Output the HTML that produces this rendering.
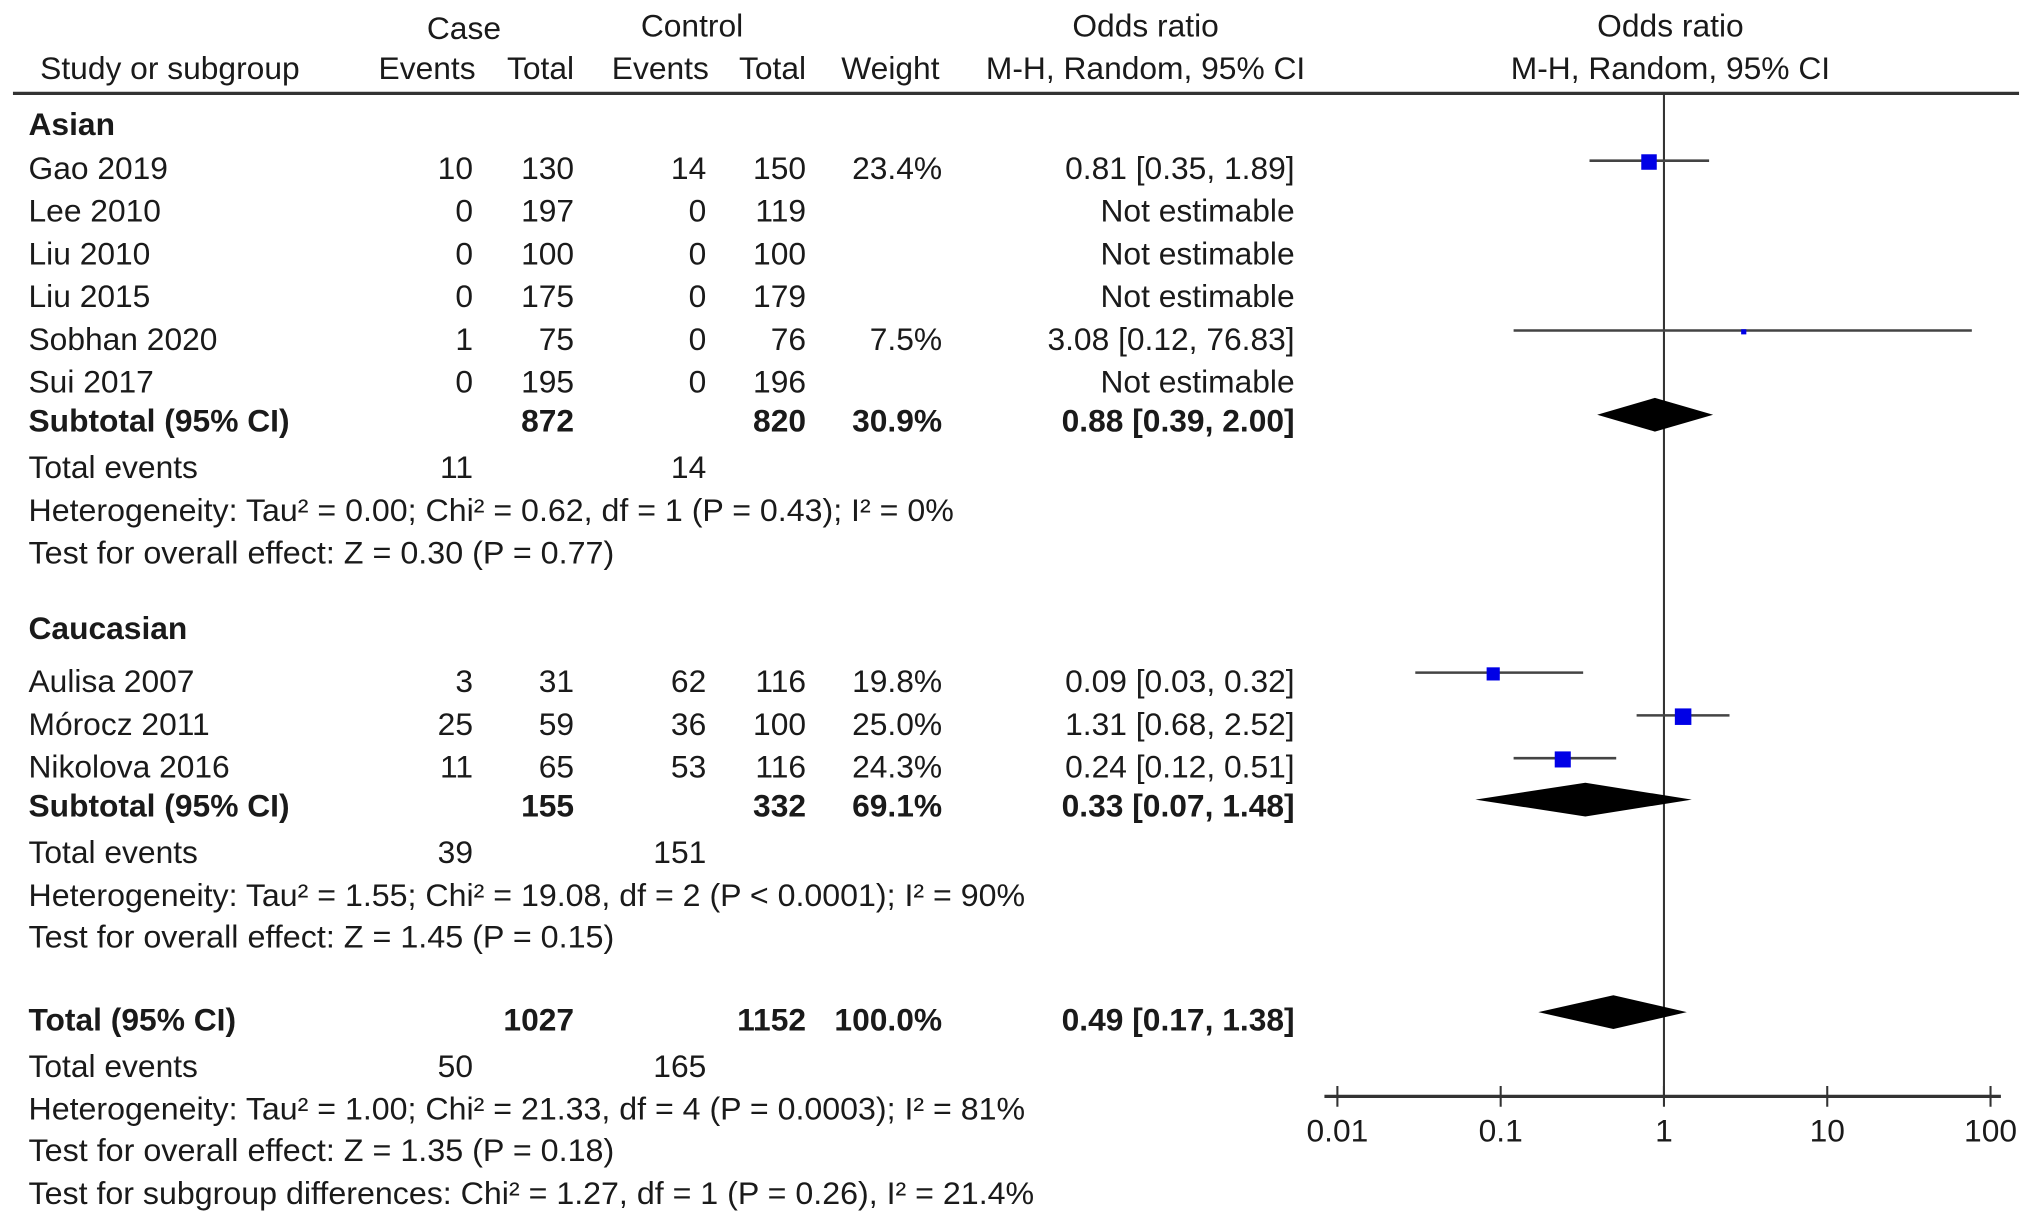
<!DOCTYPE html>
<html><head><meta charset="utf-8"><style>
html,body{margin:0;padding:0;background:#fff}
svg{display:block}
text{font-family:"Liberation Sans",Arial,sans-serif;fill:#1a1a1a;font-size:24.5px}
.b{font-weight:bold}
</style></head><body>
<svg id="c" width="2032" height="1226" viewBox="0 0 1568 946">
<g id="tbl"></g>
<g id="plot"></g>
</svg>
<script>
// ---- Chart data ----
const studyNames=["Gao 2019","Sobhan 2020","Aulisa 2007","Mórocz 2011","Nikolova 2016"];
const studyOR=[0.81,3.08,0.09,1.31,0.24];
const studyLo=[0.35,0.12,0.03,0.68,0.12];
const studyHi=[1.89,76.83,0.32,2.52,0.51];
const studyWeight=[23.4,7.5,19.8,25.0,24.3];
const studyRowY=[124,255,519,552,585];
const pooledNames=["Asian subtotal","Caucasian subtotal","Total"];
const pooledOR=[0.88,0.33,0.49];
const pooledLo=[0.39,0.07,0.17];
const pooledHi=[2.00,1.48,1.38];
const pooledRowY=[320,617,781];
const tickValues=[0.01,0.1,1,10,100];
const tickLabels=["0.01","0.1","1","10","100"];

const NS="http://www.w3.org/2000/svg";
function el(tag,attrs,parent,txt){const e=document.createElementNS(NS,tag);for(const k in attrs)e.setAttribute(k,attrs[k]);if(txt!==undefined)e.textContent=txt;parent.appendChild(e);return e;}
const xS=v=>1284+126*Math.log10(v);
const sqSize=w=>4+Math.max(0,(w-7.5))*0.5;

// ---- Table text ----
const tbl=document.getElementById('tbl');
function T(x,y,s,anchor,bold,name,len){const a={x:x,y:y,'text-anchor':anchor||'start'};if(bold)a['class']='b';if(len){a.textLength=len;a.lengthAdjust='spacingAndGlyphs';}const t=el('text',a,tbl,s);


return t;}
T(358,30,"Case","middle",0,"case-header");
T(534,28,"Control","middle",0,"control-header");
T(884,28,"Odds ratio","middle",0,"odds-ratio-header");
T(1289,28,"Odds ratio","middle",0,"plot-odds-ratio-header");
T(31,61,"Study or subgroup","start",0,"study-header");
T(367,61,"Events","end",0,"case-events-header");
T(443,61,"Total","end",0,"case-total-header");
T(547,61,"Events","end",0,"control-events-header");
T(622,61,"Total","end",0,"control-total-header");
T(725,61,"Weight","end",0,"weight-header");
T(884,61,"M-H, Random, 95% CI","middle",0,"method-header");
T(1289,61,"M-H, Random, 95% CI","middle",0,"plot-method-header");
const hl=el('line',{x1:10,y1:72,x2:1558,y2:72,stroke:'#333','stroke-width':2.5},tbl);



const rows=[
 [104,"Asian",1,null],
 [138,"Gao 2019",0,["10","130","14","150","23.4%","0.81 [0.35, 1.89]"]],
 [171,"Lee 2010",0,["0","197","0","119","","Not estimable"]],
 [204,"Liu 2010",0,["0","100","0","100","","Not estimable"]],
 [237,"Liu 2015",0,["0","175","0","179","","Not estimable"]],
 [270,"Sobhan 2020",0,["1","75","0","76","7.5%","3.08 [0.12, 76.83]"]],
 [303,"Sui 2017",0,["0","195","0","196","","Not estimable"]],
 [333,"Subtotal (95% CI)",1,["","872","","820","30.9%","0.88 [0.39, 2.00]"]],
 [369,"Total events",0,["11","","14","","",""]],
 [402,"Heterogeneity: Tau² = 0.00; Chi² = 0.62, df = 1 (P = 0.43); I² = 0%",0,null,714],
 [435,"Test for overall effect: Z = 0.30 (P = 0.77)",0,null,452],
 [493,"Caucasian",1,null],
 [534,"Aulisa 2007",0,["3","31","62","116","19.8%","0.09 [0.03, 0.32]"]],
 [567,"Mórocz 2011",0,["25","59","36","100","25.0%","1.31 [0.68, 2.52]"]],
 [600,"Nikolova 2016",0,["11","65","53","116","24.3%","0.24 [0.12, 0.51]"]],
 [630,"Subtotal (95% CI)",1,["","155","","332","69.1%","0.33 [0.07, 1.48]"]],
 [666,"Total events",0,["39","","151","","",""]],
 [699,"Heterogeneity: Tau² = 1.55; Chi² = 19.08, df = 2 (P < 0.0001); I² = 90%",0,null,769],
 [731,"Test for overall effect: Z = 1.45 (P = 0.15)",0,null,452],
 [795,"Total (95% CI)",1,["","1027","","1152","100.0%","0.49 [0.17, 1.38]"]],
 [831,"Total events",0,["50","","165","","",""]],
 [864,"Heterogeneity: Tau² = 1.00; Chi² = 21.33, df = 4 (P = 0.0003); I² = 81%",0,null,769],
 [896,"Test for overall effect: Z = 1.35 (P = 0.18)",0,null,452],
 [929,"Test for subgroup differences: Chi² = 1.27, df = 1 (P = 0.26), I² = 21.4%",0,null,776]
];
const colX=[365,443,545,622,727,999];
rows.forEach(r=>{
  T(22,r[0],r[1],"start",r[2],"row-label",r[4]);
  if(r[3]) r[3].forEach((v,i)=>{ if(v) T(colX[i],r[0],v,"end",r[2],"row-value"); });
});

// ---- Plot ----
const plot=document.getElementById('plot');
const vl=el('line',{x1:xS(1),y1:72,x2:xS(1),y2:846,stroke:'#333','stroke-width':1.6},plot);


const ax=el('line',{x1:1022,y1:846,x2:1544,y2:846,stroke:'#333','stroke-width':2.5},plot);


tickValues.forEach((v,i)=>{
  const t=el('line',{x1:xS(v),y1:838,x2:xS(v),y2:854,stroke:'#333','stroke-width':1.6},plot);
  
  
  const l=el('text',{x:xS(v),y:881,'text-anchor':'middle'},plot,tickLabels[i]);
  
  
});
studyNames.forEach((n,i)=>{
  const y=studyRowY[i];
  const ci=el('line',{x1:xS(studyLo[i]),y1:y,x2:Math.min(xS(studyHi[i]),1526),y2:y,stroke:'#444','stroke-width':2},plot);
  
  
  const s=sqSize(studyWeight[i]);
  const r=el('rect',{x:xS(studyOR[i])-s/2,y:y-s/2+1,width:s,height:s,fill:'#0000e6'},plot);
  
  
});
pooledNames.forEach((n,i)=>{
  const y=pooledRowY[i],h=13;
  const p=el('polygon',{points:`${xS(pooledLo[i])},${y} ${xS(pooledOR[i])},${y-h} ${xS(pooledHi[i])},${y} ${xS(pooledOR[i])},${y+h}`,fill:'#000'},plot);
  
  
});
</script>
</body></html>
